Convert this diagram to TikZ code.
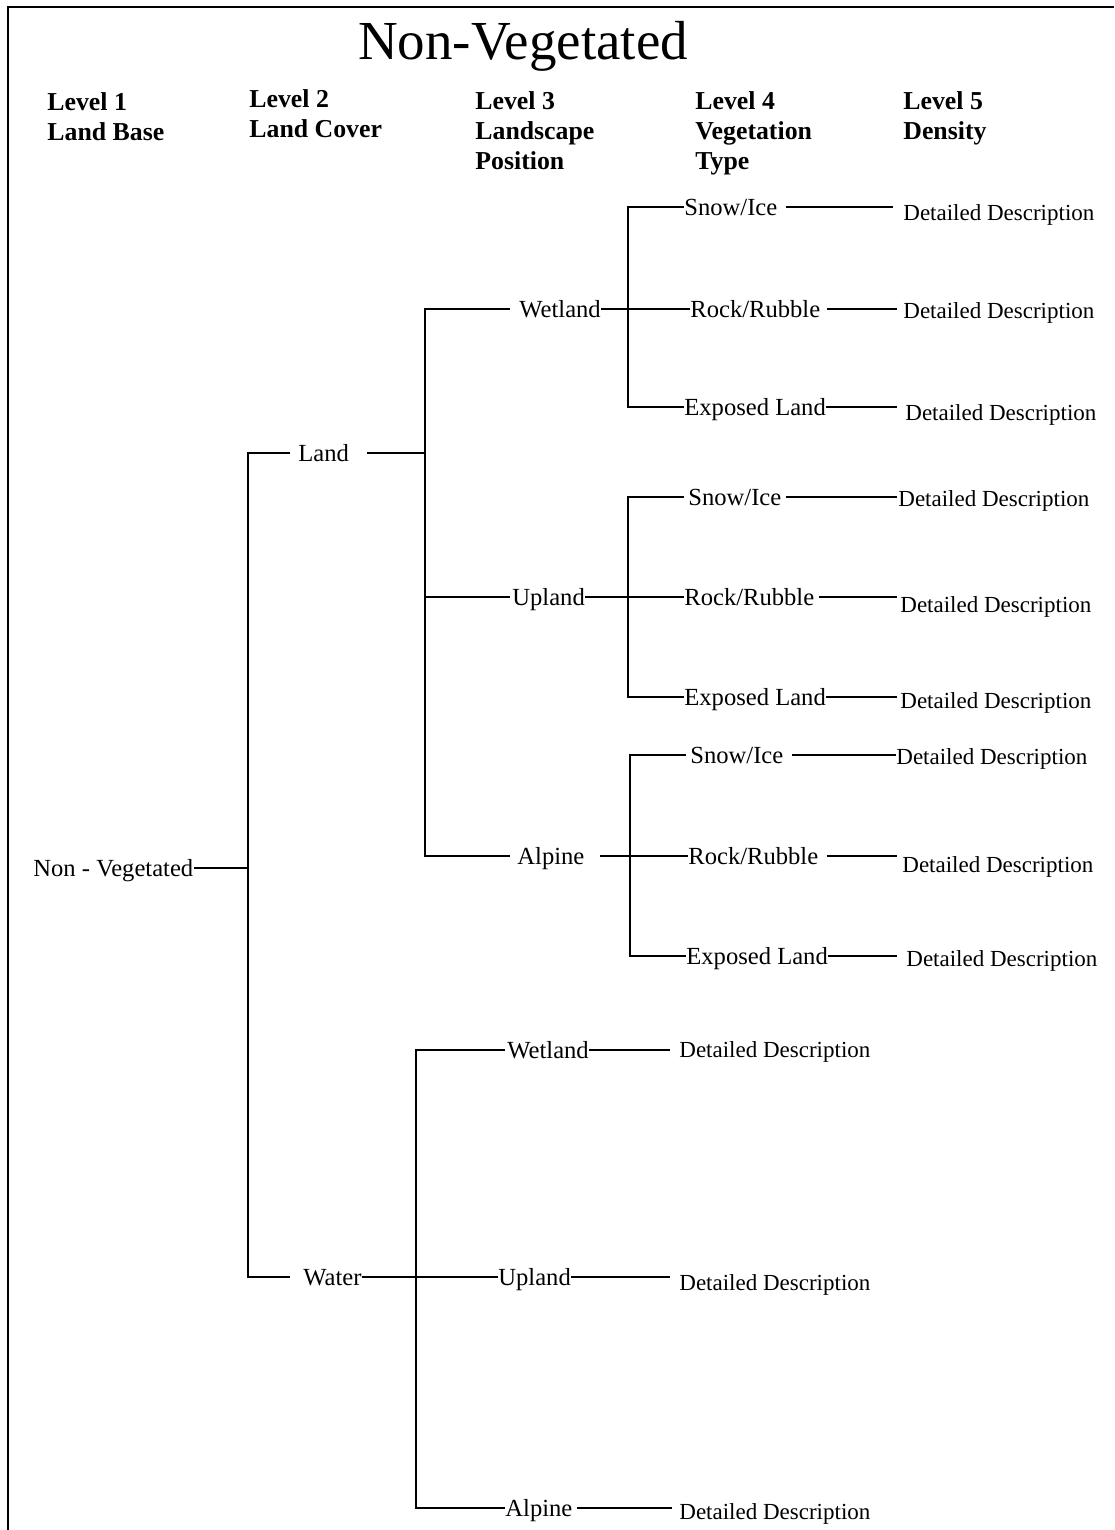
\documentclass[tikz,border=0pt]{standalone}
\usepackage{fontspec}
\setmainfont{Liberation Serif}
\begin{document}
\begin{tikzpicture}[x=0.5pt,y=-0.5pt,
  lab/.style={anchor=west,inner sep=0pt,font=\fontsize{12.3}{14}\selectfont,text height=8.1pt,text depth=0pt},
  det/.style={anchor=west,inner sep=0pt,font=\fontsize{11.5}{14}\selectfont,text height=7.6pt,text depth=0pt},
  hdr/.style={anchor=north west,inner sep=0pt,align=left,font=\fontsize{12.9}{15}\selectfont\bfseries},
  conn/.style={line width=1pt},
  frame/.style={line width=1.2pt}]
\useasboundingbox (0,0) rectangle (1114,1530);
% frame
\coordinate (fb) at (8,1530);
\coordinate (ft) at (8,7);
\coordinate (fr) at (1114,7);
\draw[frame] (fb) -- (ft) -- (fr);
% title
\node[inner sep=0pt,anchor=base,font=\fontsize{27.5}{30}\selectfont] (title) at (523,60) {Non-Vegetated};
% headers
\node[hdr] (h1) at (47,92) {Level 1\\Land Base};
\node[hdr] (h2) at (249,89) {Level 2\\Land Cover};
\node[hdr] (h3) at (475,91) {Level 3\\Landscape\\Position};
\node[hdr] (h4) at (695,91) {Level 4\\Vegetation\\Type};
\node[hdr] (h5) at (903,91) {Level 5\\Density};
% level 1-2
\node[lab] (nv) at (33,868) {Non - Vegetated};
\node[lab] (land) at (298,453) {Land};
\node[lab] (water) at (303,1277) {Water};
% level 3
\node[lab] (wet1) at (519,309) {Wetland};
\node[lab] (up1) at (512,597) {Upland};
\node[lab] (alp1) at (517,856) {Alpine};
\node[lab] (wet2) at (507,1050) {Wetland};
\node[lab] (up2) at (498,1277) {Upland};
\node[lab] (alp2) at (505,1508) {Alpine};
% level 4
\node[lab] (s1) at (684,207) {Snow/Ice};
\node[lab] (r1) at (690,309) {Rock/Rubble};
\node[lab] (e1) at (684,407) {Exposed Land};
\node[lab] (s2) at (688,497) {Snow/Ice};
\node[lab] (r2) at (684,597) {Rock/Rubble};
\node[lab] (e2) at (684,697) {Exposed Land};
\node[lab] (s3) at (690,755) {Snow/Ice};
\node[lab] (r3) at (688,856) {Rock/Rubble};
\node[lab] (e3) at (686,956) {Exposed Land};
% level 5
\node[det] (d1s) at (903,213) {Detailed Description};
\node[det] (d1r) at (903,311) {Detailed Description};
\node[det] (d1e) at (905,413) {Detailed Description};
\node[det] (d2s) at (898,499) {Detailed Description};
\node[det] (d2r) at (900,605) {Detailed Description};
\node[det] (d2e) at (900,701) {Detailed Description};
\node[det] (d3s) at (896,757) {Detailed Description};
\node[det] (d3r) at (902,865) {Detailed Description};
\node[det] (d3e) at (906,959) {Detailed Description};
\node[det] (dw) at (679,1050) {Detailed Description};
\node[det] (du) at (679,1283) {Detailed Description};
\node[det] (da) at (679,1512) {Detailed Description};
% junctions
\coordinate (jA) at (248,868);
\coordinate (jB) at (425,453);
\coordinate (jC) at (628,309);
\coordinate (jD) at (628,597);
\coordinate (jE) at (630,856);
\coordinate (jF) at (416,1277);
% level 1 -> 2
\draw[conn] (nv.east) -- (jA);
\draw[conn,shorten <=4pt,shorten >=6.5pt] (land.west) -| (jA) |- (water.west);
% land -> level 3
\draw[conn,shorten <=9pt] (land.east) -- (jB);
\draw[conn,shorten <=4.5pt,shorten >=3.5pt] (wet1.west) -| (jB) |- (alp1.west);
\draw[conn,shorten >=1pt] (jB |- up1.west) -- (up1.west);
% wetland group
\draw[conn] (wet1.east) -- (r1.west);
\draw[conn] (s1.west) -| (jC) |- (e1.west);
% upland group
\draw[conn] (up1.east) -- (r2.west);
\draw[conn,shorten <=2pt] (s2.west) -| (jD) |- (e2.west);
% alpine group
\draw[conn,shorten <=7.5pt] (alp1.east) -- (r3.west);
\draw[conn,shorten <=2pt] (s3.west) -| (jE) |- (e3.west);
% level 4 -> 5
\draw[conn,shorten <=4pt,shorten >=5pt] (s1.east) -- (s1.east -| d1s.west);
\draw[conn,shorten <=3pt,shorten >=3pt] (r1.east) -- (r1.east -| d1r.west);
\draw[conn,shorten >=4pt] (e1.east) -- (e1.east -| d1e.west);
\draw[conn,shorten <=2pt,shorten >=0.5pt] (s2.east) -- (s2.east -| d2s.west);
\draw[conn,shorten <=2pt,shorten >=1.5pt] (r2.east) -- (r2.east -| d2r.west);
\draw[conn,shorten >=1.5pt] (e2.east) -- (e2.east -| d2e.west);
\draw[conn,shorten <=4pt] (s3.east) -- (s3.east -| d3s.west);
\draw[conn,shorten <=4pt,shorten >=2.5pt] (r3.east) -- (r3.east -| d3r.west);
\draw[conn,shorten >=4.5pt] (e3.east) -- (e3.east -| d3e.west);
% water group
\draw[conn] (water.east) -- (up2.west);
\draw[conn,shorten <=1pt] (wet2.west) -| (jF) |- (alp2.west);
\draw[conn,shorten >=4.5pt] (wet2.east) -- (wet2.east -| dw.west);
\draw[conn,shorten >=4.5pt] (up2.east) -- (up2.east -| du.west);
\draw[conn,shorten <=2pt,shorten >=3.5pt] (alp2.east) -- (alp2.east -| da.west);
\end{tikzpicture}
\end{document}
